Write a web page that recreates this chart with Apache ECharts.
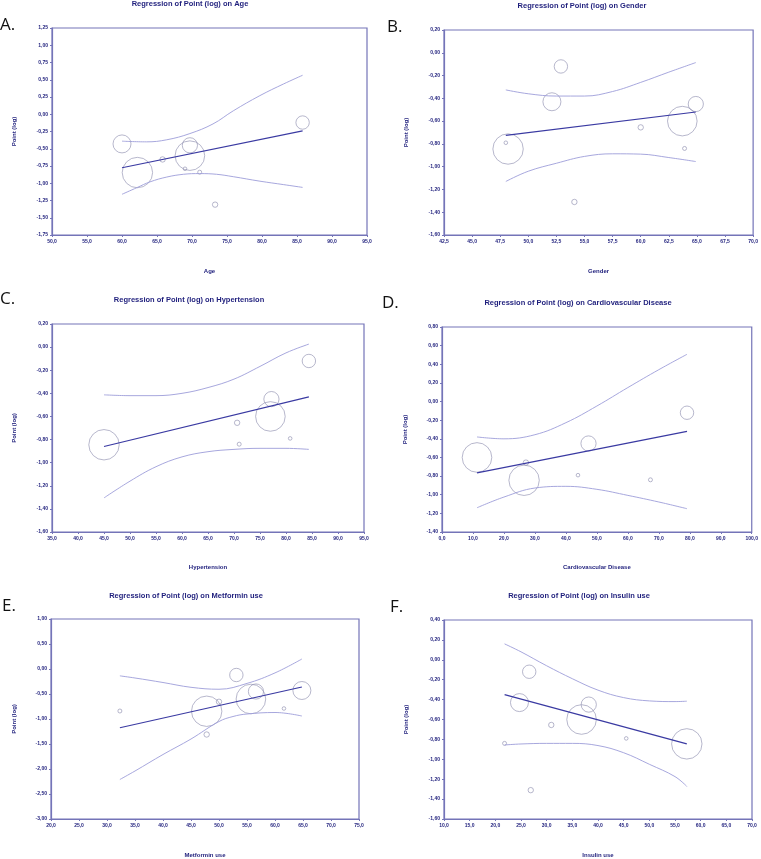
<!DOCTYPE html>
<html>
<head>
<meta charset="utf-8">
<script src="https://cdn.jsdelivr.net/npm/echarts@6/dist/echarts.min.js"></script>
<style>
html,body{margin:0;padding:0;background:#fff;}
#chart{width:761px;height:859px;}
</style>
</head>
<body>
<div id="chart"></div>
<script>
// ---- Data ----
// Nine studies, Point (log) outcome shared by every panel
const pointLog = [-0.43, -0.845, -0.655, -0.79, -0.45, -0.60, -0.84, -1.31, -0.12];
// Relative study weight (bubble radius units)
const studyWeight = [9, 15.2, 2.7, 1.8, 7.6, 14.8, 2, 2.7, 6.7];

// Covariate values per study (null = not reported)
const ageX          = [60.0, 62.2, 65.8, 69.0, 69.7, 69.7, 71.1, 73.3, 85.8];
const genderX       = [52.1, 48.2, 60.0, 48.0, 64.9, 63.7, 63.9, 54.1, 52.9];
const hypertensionX = [null, 45.0, 70.6, 80.8, 77.2, 77.0, 71.0, null, 84.4];
const cvdX          = [null, 26.5, 27.1, 43.9, 47.3, 11.3, 67.3, null, 79.1];
const metforminX    = [64.8, 47.8, 50.0, 61.6, 56.6, 55.7, 32.3, 47.8, 53.1];
const insulinX      = [24.7, 57.3, 30.9, 45.5, 38.2, 36.8, 21.8, 26.9, 26.6];

// Regression lines (x start/end, y start/end)
const ageFitX = [60.0, 85.8],  ageFitY = [-0.775, -0.24];
const genderFitX = [48.0, 64.9], genderFitY = [-0.725, -0.52];
const hypFitX = [45.0, 84.4],  hypFitY = [-0.86, -0.43];
const cvdFitX = [11.3, 79.1],  cvdFitY = [-0.765, -0.32];
const metFitX = [32.3, 64.8],  metFitY = [-1.175, -0.36];
const insFitX = [21.8, 57.3],  insFitY = [-0.35, -0.845];

// Confidence bands
const ageUpX = [60.0, 63.5, 66.4, 69.7, 73.0, 75.9, 79.7, 83.1, 85.8];
const ageUpY = [-0.39, -0.40, -0.37, -0.28, -0.14, 0.05, 0.27, 0.44, 0.565];
const ageLoX = [60.0, 62.1, 64.0, 66.4, 68.8, 71.1, 73.5, 75.9, 79.7, 83.1, 85.8];
const ageLoY = [-1.16, -1.065, -0.98, -0.91, -0.87, -0.86, -0.87, -0.905, -0.97, -1.02, -1.06];

const genderUpX = [48.0, 50.0, 52.5, 55.0, 57.5, 60.0, 62.5, 64.9];
const genderUpY = [-0.326, -0.36, -0.38, -0.38, -0.34, -0.26, -0.17, -0.086];
const genderLoX = [48.0, 50.0, 52.5, 55.0, 57.5, 60.0, 62.5, 64.9];
const genderLoY = [-1.13, -1.04, -0.97, -0.91, -0.887, -0.89, -0.92, -0.955];

const hypUpX = [45, 50, 55, 60, 65, 70, 75, 80, 84.4];
const hypUpY = [-0.413, -0.42, -0.42, -0.40, -0.35, -0.277, -0.167, -0.05, 0.026];
const hypLoX = [45, 50, 55, 60, 65, 70, 75, 80, 84.4];
const hypLoY = [-1.305, -1.16, -1.035, -0.95, -0.905, -0.885, -0.876, -0.876, -0.885];

const cvdUpX = [11.3, 20, 30, 40, 50, 60, 70, 79.1];
const cvdUpY = [-0.38, -0.40, -0.356, -0.227, -0.048, 0.15, 0.342, 0.507];
const cvdLoX = [11.3, 20, 30, 40, 50, 60, 70, 79.1];
const cvdLoY = [-1.14, -1.025, -0.928, -0.91, -0.942, -1.007, -1.078, -1.15];

const metUpX = [32.3, 35, 40, 45, 50, 55, 60, 64.8];
const metUpY = [-0.137, -0.18, -0.27, -0.366, -0.405, -0.288, -0.078, 0.2];
const metLoX = [32.3, 35, 40, 45, 50, 52.5, 55, 60, 64.8];
const metLoY = [-2.21, -2.04, -1.71, -1.40, -1.05, -0.95, -0.90, -0.87, -0.94];

const insUpX = [21.8, 25, 30, 35, 40, 45, 50, 55, 57.3];
const insUpY = [0.16, 0.08, -0.06, -0.19, -0.305, -0.38, -0.413, -0.42, -0.416];
const insLoX = [21.8, 25, 30, 35, 40, 45, 50, 55, 57.3];
const insLoY = [-0.856, -0.846, -0.84, -0.84, -0.862, -0.934, -1.05, -1.174, -1.272];

// Axis ranges [min, max, interval]
const ageXAxis = [50, 95, 5],    ageYAxis = [-1.75, 1.25, 0.25];
const genderXAxis = [42.5, 70, 2.5], genderYAxis = [-1.6, 0.2, 0.2];
const hypXAxis = [35, 95, 5],    hypYAxis = [-1.6, 0.2, 0.2];
const cvdXAxis = [0, 100, 10],   cvdYAxis = [-1.4, 0.8, 0.2];
const metXAxis = [20, 75, 5],    metYAxis = [-3, 1, 0.5];
const insXAxis = [10, 70, 5],    insYAxis = [-1.6, 0.4, 0.2];

const covariateNames = ['Age', 'Gender', 'Hypertension', 'Cardiovascular Disease', 'Metformin use', 'Insulin use'];
const panelLetters = ['A.', 'B.', 'C.', 'D.', 'E.', 'F.'];

// ---- Layout / styles ----
const layout = [
  {grid:{left:52, top:28, width:315, height:207}, title:[190,4], letter:[0,25], yGap:35, xGap:33},
  {grid:{left:444, top:30, width:312, height:205}, title:[582,6], letter:[387,27], yGap:35, xGap:33},
  {grid:{left:52, top:324, width:312, height:208}, title:[189,300], letter:[0,299], yGap:35, xGap:32},
  {grid:{left:442, top:327, width:310, height:205}, title:[578,303], letter:[382,303], yGap:34, xGap:32},
  {grid:{left:51, top:619, width:308, height:204}, title:[186,596], letter:[2,606], yGap:34, xGap:33},
  {grid:{left:444, top:620, width:308, height:203}, title:[579,596], letter:[390,607], yGap:35, xGap:33}
];

const panels = [
  {x: ageX, fitX: ageFitX, fitY: ageFitY, upX: ageUpX, upY: ageUpY, loX: ageLoX, loY: ageLoY, xa: ageXAxis, ya: ageYAxis},
  {x: genderX, fitX: genderFitX, fitY: genderFitY, upX: genderUpX, upY: genderUpY, loX: genderLoX, loY: genderLoY, xa: genderXAxis, ya: genderYAxis},
  {x: hypertensionX, fitX: hypFitX, fitY: hypFitY, upX: hypUpX, upY: hypUpY, loX: hypLoX, loY: hypLoY, xa: hypXAxis, ya: hypYAxis},
  {x: cvdX, fitX: cvdFitX, fitY: cvdFitY, upX: cvdUpX, upY: cvdUpY, loX: cvdLoX, loY: cvdLoY, xa: cvdXAxis, ya: cvdYAxis},
  {x: metforminX, fitX: metFitX, fitY: metFitY, upX: metUpX, upY: metUpY, loX: metLoX, loY: metLoY, xa: metXAxis, ya: metYAxis},
  {x: insulinX, fitX: insFitX, fitY: insFitY, upX: insUpX, upY: insUpY, loX: insLoX, loY: insLoY, xa: insXAxis, ya: insYAxis}
];

const FRAME = '#7474b8';
const LABEL = '#24247f';
const FONT = '"Liberation Sans", Arial, sans-serif';
const zip = (a, b) => a.map((v, i) => [v, b[i]]);

const grids = [], xAxes = [], yAxes = [], series = [], graphics = [];

panels.forEach((p, k) => {
  const L = layout[k];
  grids.push(Object.assign({show: true, borderColor: FRAME, borderWidth: 1.2, backgroundColor: 'transparent', containLabel: false}, L.grid));
  const axisCommon = {
    gridIndex: k,
    axisLine: {show: true, onZero: false, lineStyle: {color: FRAME, width: 1.2}},
    axisTick: {show: true, length: 2, lineStyle: {color: FRAME, width: 1}},
    splitLine: {show: false},
    nameTextStyle: {color: LABEL, fontSize: 6, fontWeight: 'bold', fontFamily: FONT},
    nameLocation: 'middle'
  };
  xAxes.push(Object.assign({}, axisCommon, {
    type: 'value', min: p.xa[0], max: p.xa[1], interval: p.xa[2],
    name: covariateNames[k], nameGap: L.xGap,
    axisLabel: {fontSize: 5, fontWeight: 'bold', color: LABEL, fontFamily: FONT, margin: 4,
      showMinLabel: true, showMaxLabel: true,
      formatter: v => v.toFixed(1).replace('.', ',')}
  }));
  yAxes.push(Object.assign({}, axisCommon, {
    type: 'value', min: p.ya[0], max: p.ya[1], interval: p.ya[2],
    name: 'Point (log)', nameGap: L.yGap,
    axisLabel: {fontSize: 5, fontWeight: 'bold', color: LABEL, fontFamily: FONT, margin: 4,
      showMinLabel: true, showMaxLabel: true,
      formatter: v => (Math.abs(v) < 1e-9 ? 0 : v).toFixed(2).replace('.', ',')}
  }));

  const pts = [];
  p.x.forEach((xv, i) => { if (xv !== null) pts.push([xv, pointLog[i], studyWeight[i]]); });
  series.push({
    type: 'scatter', xAxisIndex: k, yAxisIndex: k, data: pts,
    symbol: 'circle', symbolSize: v => v[2] * 2,
    itemStyle: {color: 'rgba(0,0,0,0)', borderColor: '#8e8eae', borderWidth: 0.8},
    silent: true, z: 2
  });
  series.push({
    type: 'line', xAxisIndex: k, yAxisIndex: k, data: zip(p.upX, p.upY),
    showSymbol: false, smooth: 0.4, lineStyle: {color: '#9d9dd9', width: 0.9}, silent: true, z: 3
  });
  series.push({
    type: 'line', xAxisIndex: k, yAxisIndex: k, data: zip(p.loX, p.loY),
    showSymbol: false, smooth: 0.4, lineStyle: {color: '#9d9dd9', width: 0.9}, silent: true, z: 3
  });
  series.push({
    type: 'line', xAxisIndex: k, yAxisIndex: k, data: zip(p.fitX, p.fitY),
    showSymbol: false, lineStyle: {color: '#3a3aa2', width: 1.2}, silent: true, z: 4
  });

  graphics.push({
    type: 'text', left: L.title[0], top: L.title[1],
    x: L.title[0], y: L.title[1],
    style: {text: 'Regression of Point (log) on ' + covariateNames[k], fill: '#1e1e7c',
      font: 'bold 7.5px ' + FONT, textAlign: 'center', textVerticalAlign: 'middle'}
  });
  graphics.push({
    type: 'text', x: L.letter[0], y: L.letter[1],
    style: {text: panelLetters[k], fill: '#111', font: '17px "Open Sans", "Liberation Sans", sans-serif',
      textAlign: 'left', textVerticalAlign: 'middle'}
  });
});

// graphics: use absolute x/y positions only
graphics.forEach(g => { delete g.left; delete g.top; });

const chart = echarts.init(document.getElementById('chart'), null, {renderer: 'canvas'});
chart.setOption({
  animation: false,
  grid: grids, xAxis: xAxes, yAxis: yAxes, series: series,
  graphic: graphics
});
</script>
</body>
</html>
